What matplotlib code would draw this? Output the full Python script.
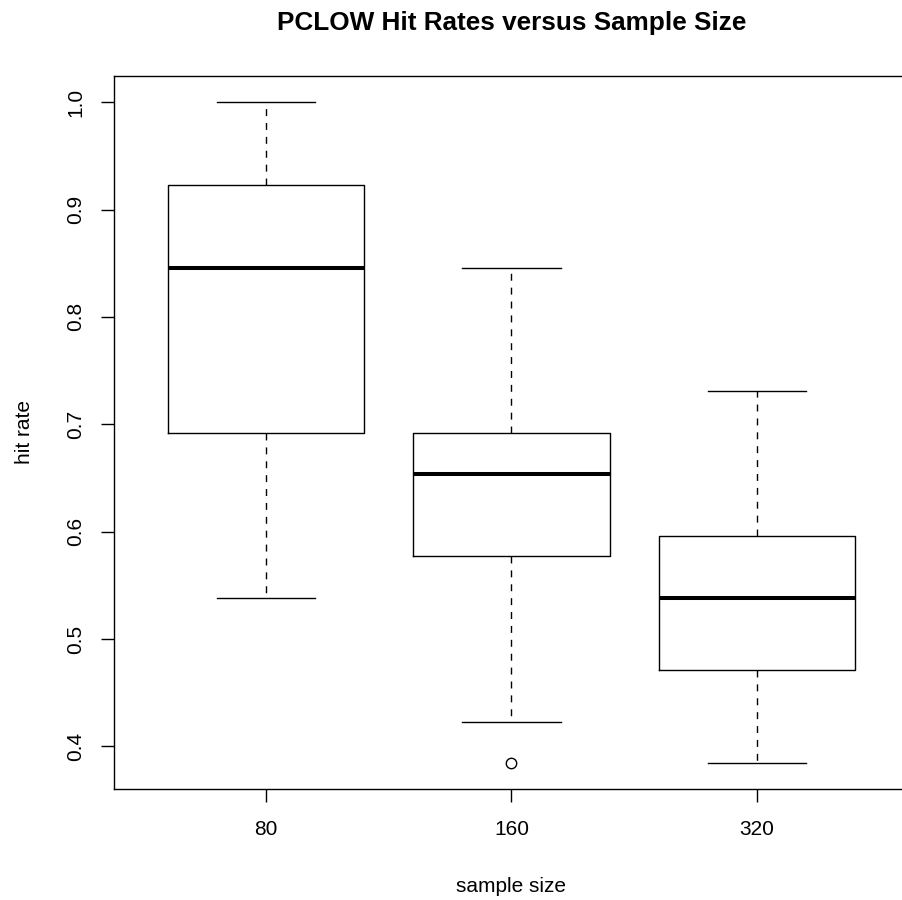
import matplotlib
matplotlib.use("Agg")
import matplotlib.pyplot as plt

plt.rcParams["font.family"] = ["Liberation Sans", "DejaVu Sans"]

# five-number summaries per sample size
sizes = ["80", "160", "320"]
whislo = [0.538, 0.423, 0.385]
q1 = [0.692, 0.577, 0.471]
med = [0.846, 0.654, 0.538]
q3 = [0.923, 0.692, 0.596]
whishi = [1.000, 0.846, 0.731]
fliers = [[], [0.385], []]

stats = []
for i, s in enumerate(sizes):
    stats.append(dict(label=s, whislo=whislo[i], q1=q1[i], med=med[i],
                      q3=q3[i], whishi=whishi[i], fliers=fliers[i]))

fig = plt.figure(figsize=(9.02, 9.0), dpi=100)
W, H = 902, 900
left, right, top, bottom = 113.7, 909.2, 75.7, 789.0
ax = fig.add_axes([left / W, 1 - bottom / H, (right - left) / W, (bottom - top) / H])

positions = [1, 2, 3]
ax.bxp(stats, positions=positions, widths=0.8, capwidths=0.4,
       boxprops=dict(color="black", linewidth=1.0),
       whiskerprops=dict(color="black", linewidth=1.0, linestyle=(0, (5, 5))),
       capprops=dict(color="black", linewidth=1.0),
       medianprops=dict(color="black", linewidth=2.9, solid_capstyle="butt"),
       flierprops=dict(marker="o", markersize=7.5, markerfacecolor="none",
                       markeredgecolor="black", markeredgewidth=1.0),
       manage_ticks=False)

# R-style 4% padding around the data range
lo = min(whislo + [f for fl in fliers for f in fl])
hi = max(whishi)
pad = 0.04 * (hi - lo)
ax.set_ylim(lo - pad, hi + pad)
ax.set_xlim(0.5 - 0.04 * 3, 3.5 + 0.04 * 3)

ax.set_xticks(positions)
ax.set_xticklabels(sizes)
ax.set_yticks([0.4, 0.5, 0.6, 0.7, 0.8, 0.9, 1.0])
ax.set_yticklabels(["0.4", "0.5", "0.6", "0.7", "0.8", "0.9", "1.0"],
                   rotation=90, va="center")
ax.tick_params(axis="both", direction="out", length=9.5, width=1.0,
               labelsize=15, color="black")
ax.tick_params(axis="x", pad=13)
ax.tick_params(axis="y", pad=11)
for sp in ax.spines.values():
    sp.set_linewidth(1.0)

ax.set_title("PCLOW Hit Rates versus Sample Size", fontsize=18.8,
             fontweight="bold", pad=33)
ax.set_xlabel("sample size", fontsize=15, labelpad=27)
ax.set_ylabel("hit rate", fontsize=15, labelpad=23)

fig.savefig("out.png", dpi=100)
